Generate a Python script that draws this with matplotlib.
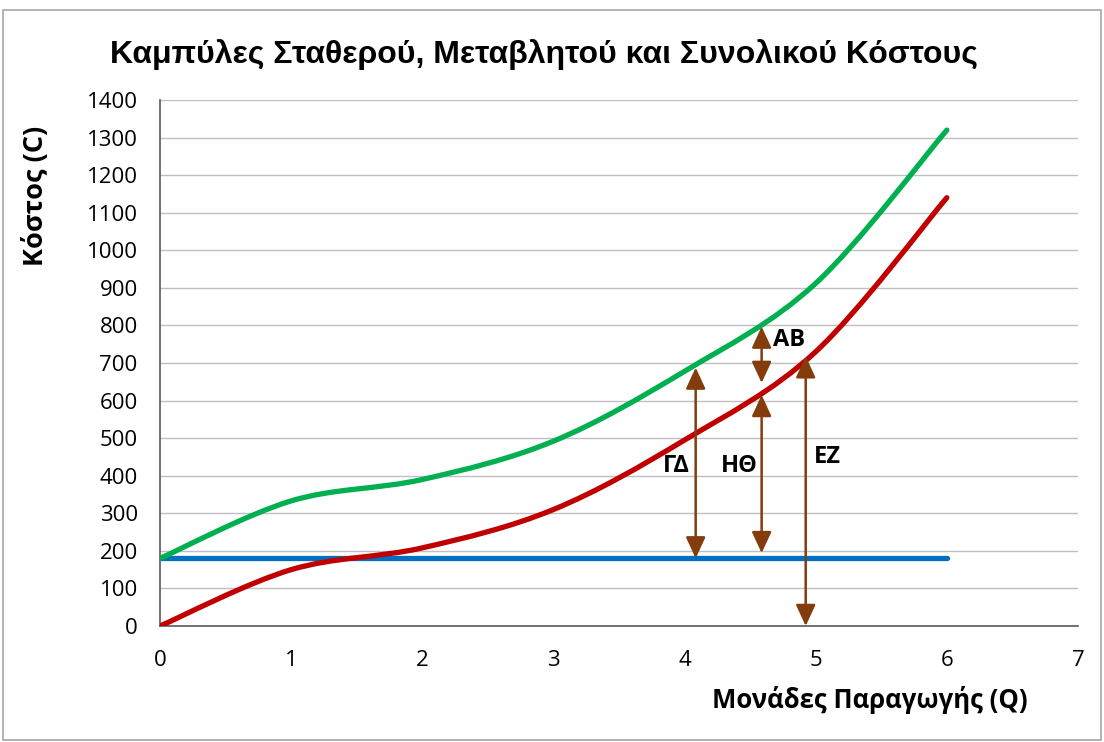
import matplotlib
matplotlib.use('Agg')
import matplotlib.pyplot as plt
from matplotlib.path import Path
from matplotlib.patches import PathPatch, Rectangle
import numpy as np

plt.rcParams['font.family'] = ['Open Sans', 'DejaVu Sans']

# data
q = [0, 1, 2, 3, 4, 5, 6]
fixed_cost = [180, 180, 180, 180, 180, 180, 180]
variable_cost = [0, 150, 208, 310, 495, 730, 1140]
total_cost = [180, 333, 390, 492, 678, 912, 1320]

# double arrows: (x, y_from, y_to) and labels
arrows = [(4.085, 180, 688), (4.588, 194, 615), (4.588, 647, 797), (4.924, 0, 718)]
arrow_labels = ['ΓΔ', 'ΗΘ', 'ΑΒ', 'ΕΖ']
label_pos = [(3.94, 426), (4.42, 426), (4.80, 762), (5.09, 449)]

blue = '#0070C0'
red = '#C00000'
green = '#00B050'
brown = '#843C0C'


def smooth_path(xs, ys):
    # excel-like smoothed line: cubic bezier segments
    pts = np.column_stack([xs, ys]).astype(float)
    n = len(pts)
    verts = [pts[0]]
    codes = [Path.MOVETO]
    for i in range(n - 1):
        p0 = pts[i - 1] if i > 0 else pts[i]
        p1 = pts[i]
        p2 = pts[i + 1]
        p3 = pts[i + 2] if i + 2 < n else pts[i + 1]
        c1 = p1 + (p2 - p0) / 6.0
        c2 = p2 - (p3 - p1) / 6.0
        verts += [c1, c2, p2]
        codes += [Path.CURVE4] * 3
    return Path(verts, codes)


fig = plt.figure(figsize=(11.04, 7.42), dpi=100)
ax = fig.add_axes([0.1449, 0.1563, 0.8315, 0.7089])

ax.plot(q, fixed_cost, color=blue, lw=3.8, solid_capstyle='round', zorder=3)
for ys, col in [(variable_cost, red), (total_cost, green)]:
    ax.add_patch(PathPatch(smooth_path(q, ys), facecolor='none', edgecolor=col,
                           lw=3.8, capstyle='round', zorder=3))

for (x, y0, y1) in arrows:
    ax.annotate('', xy=(x, y1), xytext=(x, y0),
                arrowprops=dict(arrowstyle='<|-|>,head_length=0.65,head_width=0.3',
                                mutation_scale=20, color=brown, lw=1.8,
                                shrinkA=0, shrinkB=0),
                zorder=4)
for lab, (x, y) in zip(arrow_labels, label_pos):
    ax.text(x, y, lab, fontsize=17, fontweight='bold', ha='center', va='center', zorder=5)

ax.set_xlim(0, 7)
ax.set_ylim(0, 1400)
ax.set_xticks(range(0, 8))
ax.set_yticks(range(0, 1401, 100))
ax.tick_params(length=0, labelsize=16, colors='black')
ax.tick_params(axis='x', pad=17)
ax.tick_params(axis='y', pad=16)
ax.yaxis.grid(True, color='#BFBFBF', lw=1.0)
ax.set_axisbelow(True)
for s in ['top', 'right']:
    ax.spines[s].set_visible(False)
for s in ['left', 'bottom']:
    ax.spines[s].set_color('#595959')
    ax.spines[s].set_linewidth(1.2)

fig.text(0.493, 0.926, 'Καμπύλες Σταθερού, Μεταβλητού και Συνολικού Κόστους',
         fontsize=23, fontweight='bold', family=['Liberation Sans', 'DejaVu Sans'],
         ha='center', va='center')
fig.text(0.788, 0.057, 'Μονάδες Παραγωγής (Q)', fontsize=18.5, fontweight='bold',
         ha='center', va='center')
fig.text(0.032, 0.736, 'Κόστος (C)', fontsize=19.5, fontweight='bold', rotation=90,
         ha='center', va='center')

fig.patches.append(Rectangle((0.003, 0.003), 0.994, 0.984, transform=fig.transFigure,
                             fill=False, edgecolor='#A6A6A6', lw=1.2))

fig.savefig('out.png', dpi=100)
